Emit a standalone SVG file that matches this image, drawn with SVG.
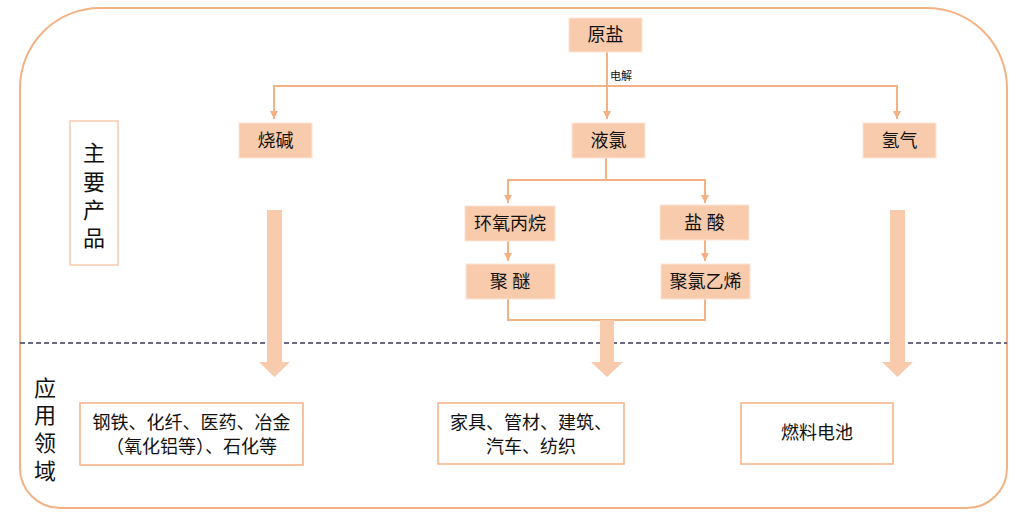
<svg xmlns="http://www.w3.org/2000/svg" width="1016" height="516" viewBox="0 0 1016 516">
<style>
.box{fill:#f8cbad;stroke:#fce4d6;stroke-width:1}
.lbl{fill:#ffffff;stroke:#f8cbad;stroke-width:1.5}
.app{fill:#ffffff;stroke:#f4b183;stroke-width:1.5}
.t{font-family:"Liberation Serif","Noto Sans CJK SC",serif;font-size:18px;fill:#111;text-anchor:middle;dominant-baseline:central}
.v{font-family:"Liberation Serif","Noto Sans CJK SC",serif;font-size:22px;fill:#111;text-anchor:middle;dominant-baseline:central}
.s{font-family:"Liberation Serif","Noto Sans CJK SC",serif;font-size:11px;fill:#111}
.ln{fill:none;stroke:#f4b183;stroke-width:2}
.blk{fill:#f8cbad}
.frame{fill:none;stroke:#f4b183;stroke-width:2}
.dash{stroke:#3b3b5c;stroke-width:1.5;stroke-dasharray:5,3}
</style>
<defs>
<marker id="ah" markerUnits="userSpaceOnUse" markerWidth="10" markerHeight="10" refX="8" refY="4" orient="auto">
<path d="M0,0 L8,4 L0,8 z" fill="#f4b183"/>
</marker>
</defs>
<rect width="1016" height="516" fill="#ffffff"/>
<g id="frame">
<path class="frame" d="M100,8 H927 A80,80 0 0 1 1007,88 V468 A40,40 0 0 1 967,508 H60 A40,40 0 0 1 20,468 V88 A80,80 0 0 1 100,8 Z"/>
<line class="dash" x1="20" y1="343" x2="1007" y2="343"/>
</g>
<g id="label-products">
<rect class="lbl" x="70" y="121" width="48" height="144"/>
<text class="v" x="94" y="153">主</text>
<text class="v" x="94" y="182">要</text>
<text class="v" x="94" y="210">产</text>
<text class="v" x="94" y="238">品</text>
</g>
<g id="label-apps">
<text class="v" x="45" y="388">应</text>
<text class="v" x="45" y="415">用</text>
<text class="v" x="45" y="443">领</text>
<text class="v" x="45" y="471">域</text>
</g>
<g id="connectors">
<line class="ln" x1="607" y1="52" x2="607" y2="119" marker-end="url(#ah)"/>
<polyline class="ln" points="274,86 897,86 897,119" marker-end="url(#ah)"/>
<line class="ln" x1="274" y1="85" x2="274" y2="119" marker-end="url(#ah)"/>
<polyline class="ln" points="606,158 606,180 508,180 508,203" marker-end="url(#ah)"/>
<polyline class="ln" points="606,180 705,180 705,203" marker-end="url(#ah)"/>
<line class="ln" x1="508" y1="241" x2="508" y2="261" marker-end="url(#ah)"/>
<line class="ln" x1="705" y1="240" x2="705" y2="261" marker-end="url(#ah)"/>
<polyline class="ln" points="508,299 508,320 705,320 705,299"/>
<path class="blk" d="M267,210 H282 V362 H290 L274.5,377 L259,362 H267 Z"/>
<path class="blk" d="M600,320 H614 V362 H623 L607,377 L591,362 H600 Z"/>
<path class="blk" d="M890,210 H905 V362 H913 L897.5,377 L882,362 H890 Z"/>
<text class="s" x="610" y="80">电解</text>
</g>
<g id="n-yuanyan"><rect class="box" x="569" y="18" width="73" height="34"/><text class="t" x="605.5" y="35">原盐</text></g>
<g id="n-shaojian"><rect class="box" x="239" y="123" width="73" height="35"/><text class="t" x="275.5" y="140.5">烧碱</text></g>
<g id="n-yelv"><rect class="box" x="572" y="123" width="73" height="35"/><text class="t" x="608.5" y="140.5">液氯</text></g>
<g id="n-qingqi"><rect class="box" x="863" y="123" width="73" height="35"/><text class="t" x="899.5" y="140.5">氢气</text></g>
<g id="n-huanyang"><rect class="box" x="465" y="206" width="90" height="35"/><text class="t" x="510" y="223.5">环氧丙烷</text></g>
<g id="n-yansuan"><rect class="box" x="660" y="205" width="89" height="35"/><text class="t" x="704.5" y="222.5">盐 酸</text></g>
<g id="n-jumi"><rect class="box" x="466" y="264" width="89" height="35"/><text class="t" x="510" y="281.5">聚 醚</text></g>
<g id="n-pvc"><rect class="box" x="661" y="264" width="89" height="35"/><text class="t" x="705.5" y="281.5">聚氯乙烯</text></g>
<g id="a-gangtie"><rect class="app" x="80" y="403" width="223" height="62"/><text class="t" x="191.5" y="423">钢铁、化纤、医药、冶金</text><text class="t" x="191.5" y="447">（氧化铝等）、石化等</text></g>
<g id="a-jiaju"><rect class="app" x="438" y="403" width="186" height="61"/><text class="t" x="531" y="423">家具、管材、建筑、</text><text class="t" x="531" y="447">汽车、纺织</text></g>
<g id="a-ranliao"><rect class="app" x="741" y="403" width="152" height="61"/><text class="t" x="817" y="433">燃料电池</text></g>
</svg>
